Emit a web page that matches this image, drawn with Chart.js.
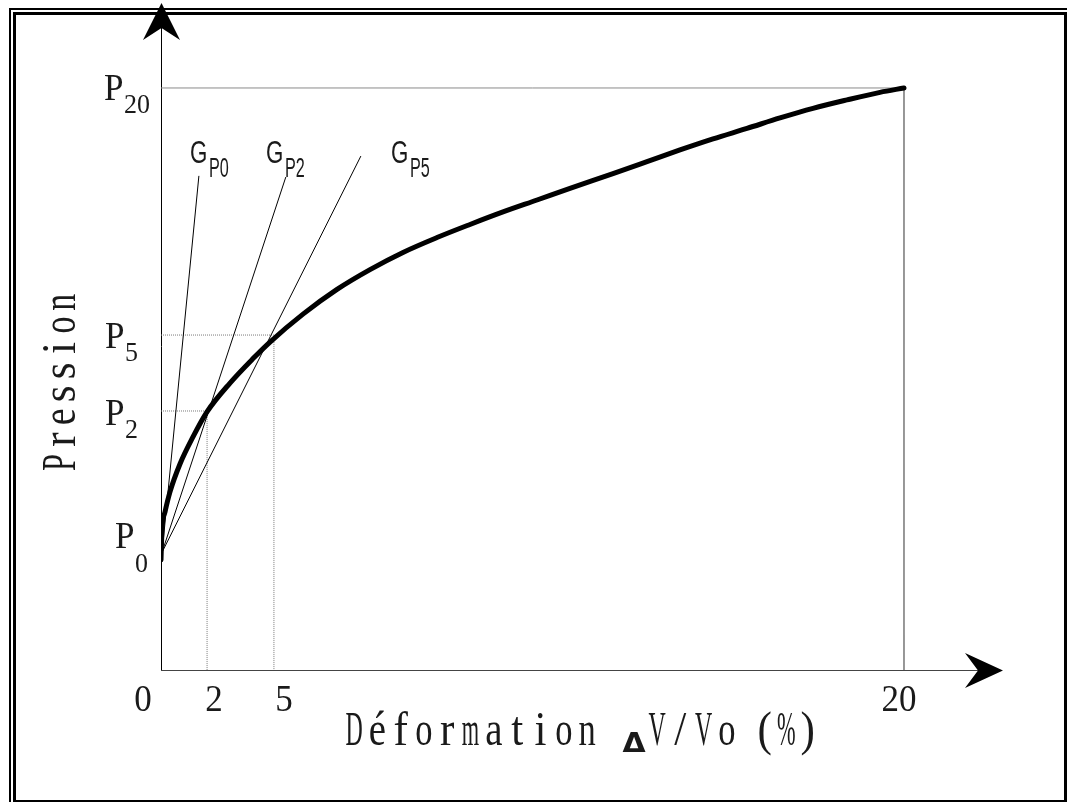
<!DOCTYPE html>
<html>
<head>
<meta charset="utf-8">
<script src="https://cdn.jsdelivr.net/npm/chart.js@4.4.1/dist/chart.umd.min.js"></script>
<style>
  html, body { margin: 0; padding: 0; background: #fff; }
  canvas { display: block; }
</style>
</head>
<body>
<canvas id="pressionChart" width="1067" height="802"></canvas>
<script>
// Courbe pression / déformation (schéma)
const curveX = [0, 0.027, 0.108, 0.242, 0.511, 0.861, 1.238, 1.857, 2.476, 2.934, 3.822, 4.738, 5.626, 6.514, 7.429, 8.318, 9.206, 10.121, 11.009, 12.167, 13.082, 13.97, 14.859, 15.774, 16.662, 17.55, 18.466, 19.354, 20];
const curveY = [3.78, 4.83, 5.43, 6.12, 7.08, 8.01, 8.87, 9.86, 10.7, 11.27, 12.23, 13.08, 13.76, 14.35, 14.86, 15.31, 15.74, 16.15, 16.55, 17.06, 17.47, 17.87, 18.25, 18.61, 18.97, 19.3, 19.59, 19.85, 20];

// graduations (schéma non linéaire)
const xTickValues = [0, 1.24, 3.04, 20];
const xTickLabels = ['0', '2', '5', '20'];
const yTickValues = [4.0, 8.9, 11.51, 20];
const yTickSubs = ['0', '2', '5', '20'];

// modules sécants G depuis P0
const tangentNames = ['P0', 'P2', 'P5'];
const tangentEndX = [1.02, 3.36, 5.38];
const tangentEndY = [16.98, 16.94, 17.66];

const datasets = [];
datasets.push({
    data: curveX.map((x, i) => ({ x: x, y: curveY[i] })),
    borderColor: '#000',
    borderWidth: 5,
    borderCapStyle: 'round',
    cubicInterpolationMode: 'monotone',
    pointRadius: 0
});
tangentNames.forEach((n, i) => {
    datasets.push({
        data: [{ x: 0.03, y: yTickValues[0] + 0.05 }, { x: tangentEndX[i], y: tangentEndY[i] }],
        borderColor: '#000',
        borderWidth: 1,
        pointRadius: 0
    });
});
// lignes de rappel P2, P5, P20
for (let i = 1; i < xTickValues.length; i++) {
    datasets.push({
        data: [{ x: 0, y: yTickValues[i] }, { x: xTickValues[i], y: yTickValues[i] }, { x: xTickValues[i], y: 0 }],
        borderColor: i === 3 ? '#8a8a8a' : '#7a7a7a',
        borderWidth: 1,
        borderDash: i === 3 ? [] : [1, 1],
        pointRadius: 0
    });
}

const SERIF = '"Liberation Serif"';
const SANS = '"Liberation Sans"';

function drawScaled(ctx, s, x, y, size, sx, sy, family, align, weight) {
    ctx.save();
    ctx.translate(x, y);
    ctx.scale(sx, sy);
    ctx.font = (weight || 'normal') + ' ' + size + 'px ' + family;
    ctx.textAlign = align || 'left';
    ctx.textBaseline = 'alphabetic';
    ctx.fillText(s, 0, 0);
    ctx.restore();
}

// imitation d'une police à chasse fixe : chaque glyphe ramené à la même largeur
function drawMono(ctx, s, x0, y, cell, size, sy) {
    ctx.save();
    ctx.font = size + 'px ' + SERIF;
    for (let i = 0; i < s.length; i++) {
        if (s[i] === ' ') continue;
        const w = ctx.measureText(s[i]).width;
        const sx = Math.max(0.62, Math.min(1.2, cell * 0.74 / w));
        drawScaled(ctx, s[i], x0 + cell * (i + 0.5), y, size, sx, sy, SERIF, 'center');
    }
    ctx.restore();
}

const schemaPlugin = {
    id: 'schema',
    beforeDatasetsDraw(chart) {
        const ctx = chart.ctx;
        const a = chart.chartArea;
        ctx.save();
        // axes
        ctx.lineWidth = 1;
        ctx.strokeStyle = '#000';
        ctx.beginPath();
        ctx.moveTo(a.left + 0.5, a.bottom);
        ctx.lineTo(a.left + 0.5, a.top + 20);
        ctx.stroke();
        ctx.strokeStyle = '#444';
        ctx.beginPath();
        ctx.moveTo(a.left, a.bottom + 0.5);
        ctx.lineTo(a.right - 20, a.bottom + 0.5);
        ctx.stroke();
        // flèches
        ctx.fillStyle = '#000';
        ctx.beginPath();
        ctx.moveTo(a.left + 0.5, a.top);
        ctx.lineTo(a.left + 19, a.top + 37);
        ctx.lineTo(a.left + 0.5, a.top + 25);
        ctx.lineTo(a.left - 18, a.top + 37);
        ctx.closePath();
        ctx.fill();
        ctx.beginPath();
        ctx.moveTo(a.right, a.bottom + 0.5);
        ctx.lineTo(a.right - 38, a.bottom + 18);
        ctx.lineTo(a.right - 25, a.bottom + 0.5);
        ctx.lineTo(a.right - 38, a.bottom - 17);
        ctx.closePath();
        ctx.fill();
        ctx.restore();
    },
    afterDraw(chart) {
        const ctx = chart.ctx;
        const xs = chart.scales.x;
        const ys = chart.scales.y;
        ctx.save();
        ctx.fillStyle = '#1a1a1a';

        // graduations x
        const xOff = [-18, 7, 10, -5];
        xTickValues.forEach((v, i) => {
            const px = xs.getPixelForValue(v) + xOff[i];
            drawScaled(ctx, xTickLabels[i], px, 711, 28, 1.25, 1.37, SERIF, 'center');
        });

        // graduations y : P indicé
        const pLeft = [115, 105, 105, 104];
        const pDy = [-6, 14, 13, 12];
        yTickValues.forEach((v, i) => {
            const py = ys.getPixelForValue(v) + pDy[i];
            drawScaled(ctx, 'P', pLeft[i], py, 28, 1.25, 1.37, SERIF, 'left');
            drawScaled(ctx, yTickSubs[i], pLeft[i] + 20, py + (i === 0 ? 24 : 13), 20, 1.3, 1.33, SERIF, 'left');
        });

        // libellés G
        tangentNames.forEach((n, i) => {
            const gx = [190, 266, 391][i];
            drawScaled(ctx, 'G', gx, 163, 31, 0.72, 1, SANS, 'left');
            drawScaled(ctx, n, gx + 19, 177, 27, 0.6, 1, SANS, 'left');
        });

        // titre axe x
        drawMono(ctx, 'Déformation', 342.4, 745, 23.3, 36, 1.35);
        drawScaled(ctx, '\u0394', 634, 752, 26, 1.15, 1, '"DejaVu Sans"', 'center', 'bold');
        drawMono(ctx, 'V/Vo', 645.4, 745, 23.3, 36, 1.35);
        drawMono(ctx, '(%)', 754, 745, 21.5, 36, 1.35);

        // titre axe y
        ctx.save();
        ctx.translate(75, 474);
        ctx.rotate(-Math.PI / 2);
        drawMono(ctx, 'Pression', 0, 0, 22.9, 36, 1.35);
        ctx.restore();

        // cadre double
        ctx.strokeStyle = '#000';
        ctx.lineWidth = 2;
        ctx.strokeRect(10, 9, 1200, 1000);
        ctx.lineWidth = 3;
        ctx.strokeRect(14.5, 13.5, 1051, 788);
        ctx.restore();
    }
};

new Chart(document.getElementById('pressionChart').getContext('2d'), {
    type: 'line',
    data: { datasets: datasets },
    options: {
        responsive: false,
        animation: false,
        layout: { padding: { left: 161, top: 3, right: 64, bottom: 132 } },
        plugins: { legend: { display: false }, tooltip: { enabled: false } },
        scales: {
            x: { type: 'linear', display: false, min: 0, max: 22.665 },
            y: { type: 'linear', display: false, min: 0, max: 22.92 }
        },
        elements: { line: { tension: 0 } }
    },
    plugins: [schemaPlugin]
});
</script>
</body>
</html>
